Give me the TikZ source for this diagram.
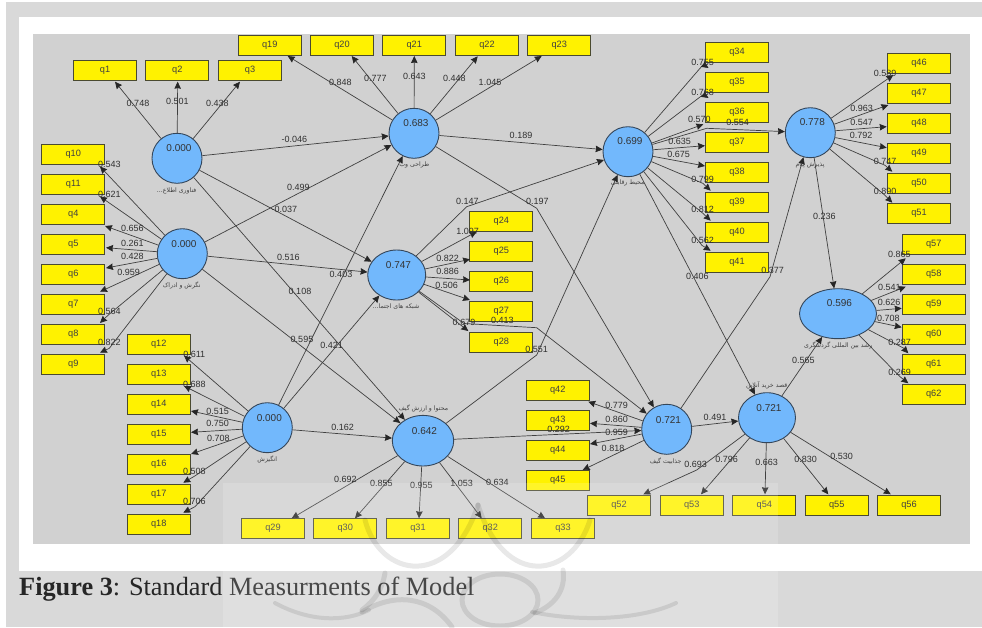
\documentclass[tikz,border=0pt]{standalone}
\usepackage{fontspec}
\setmainfont{Liberation Sans}
\newfontfamily\arabfont[Script=Arabic]{DejaVu Sans}
\newfontfamily\capfont{Liberation Serif}
\TeXXeTstate=1
\usetikzlibrary{arrows.meta,shapes.geometric}
\definecolor{pagegray}{HTML}{D9D9D9}
\definecolor{diagbg}{HTML}{D1D1D1}
\definecolor{boxline}{HTML}{4A4A30}
\definecolor{cfill}{HTML}{72B8FC}
\definecolor{cline}{HTML}{34465A}
\definecolor{linkcol}{HTML}{404040}
\definecolor{labcol}{HTML}{303030}
\tikzset{
  qbox/.style={draw=boxline,line width=.9pt,fill=yellow,minimum width=63pt,minimum height=20pt,inner sep=0pt,font=\fontsize{9.2}{10}\selectfont,text=black!75},
  arr/.style={draw=linkcol,line width=.7pt,-{Stealth[length=7pt,width=6.5pt,inset=.6pt,color=black!85]}},
  lab/.style={inner sep=0pt,font=\fontsize{9}{10}\selectfont,text=labcol},
  val/.style={inner sep=0pt,font=\fontsize{10}{11}\selectfont,text=black!80},
  arl/.style={inner sep=0pt,font=\arabfont\fontsize{6.2}{7}\selectfont,text=black!75},
  wm/.style={draw=black,draw opacity=.09,line cap=round}
}
\newcommand\lnk[4]{\draw[arr] (#1) -- ([shift={(#3,#4)}]#2.center);}
\newcommand\lnkb[6]{\draw[arr] (#1) -- ([shift={(#5,#6)}]#2.center) -- ([shift={(#3,#4)}]#2.center);}
\begin{document}
\begin{tikzpicture}[x=1pt,y=-1pt]
\useasboundingbox (0,0) rectangle (982,627);
\fill[white] (0,0) rectangle (982,627);
\fill[pagegray] (6,2) rectangle (982,17);
\fill[pagegray] (6,2) rectangle (19,627);
\fill[pagegray] (6,571) rectangle (982,627);
\fill[diagbg] (33,34) rectangle (970,544);
% indicators
\foreach \n/\x/\y in {1/105/70.5,2/177.3/70.5,3/250/70.5,
 19/269.7/45.3,20/342/45.3,21/414.3/45.3,22/487/45.3,23/559.3/45.3,
 10/73.3/154.7,11/73.3/184.7,4/73.3/214.7,5/73.3/244.7,6/73.3/274.7,7/73.3/304.7,8/73.3/334.7,9/73.3/364.7,
 12/158.7/344,13/158.7/374,14/158.7/404.3,15/158.7/434.3,16/158.7/464.3,17/158.7/494.3,18/158.7/524.3,
 29/273/528.7,30/345.3/528.7,31/418/528.7,32/490.3/528.7,33/563/528.7,
 24/501.4/221.7,25/501.4/251.7,26/501.4/281.7,27/501.4/311.7,28/501.4/342,
 34/737/52.3,35/737/82.3,36/737/112.3,37/737/142.3,38/737/172.3,39/737/202.4,40/737/232.4,41/737/262.4,
 46/919/63.3,47/919/93.3,48/919/123.3,49/919/153.3,50/919/183.3,51/919/213.3,
 57/933.7/244.7,58/933.7/274.7,59/933.7/304.7,60/933.7/334.7,61/933.7/364.7,62/933.7/394.7,
 42/557.7/390.7,43/557.7/420.7,44/557.7/450.7,45/557.7/480.7,
 52/619/505.7,53/691.7/505.7,54/764.3/505.7,55/836.7/505.7,56/909/505.7}
 {\node[qbox] (q\n) at (\x,\y) {q\n};}
% latent variables
\foreach \n/\x/\y/\rx/\ry in {a/177/158.3/25/25,b/182.3/253.7/25/25,c/267.3/427.7/25/25,
 d/414/133.3/25/25,e/396.7/275/29/25,f/423/440.7/30.7/25.3,g/628/151.7/25/25,
 h/810.3/132.7/25/25,i/838/313.7/38.5/25,j/666.7/429.3/25/25,k/767/417.7/28.5/25}
 {\node[ellipse,draw=cline,line width=.9pt,fill=cfill,minimum width=2*\rx pt,minimum height=2*\ry pt,inner sep=0pt] (\n) at (\x,\y) {};}
\foreach \n/\x/\y/\t in {a/179/148.5/0.000,b/184/244/0.000,c/269.3/418/0.000,d/416/123.5/0.683,
 e/398.5/265.5/0.747,f/424.5/431/0.642,g/630/141.5/0.699,h/812.3/122.5/0.778,i/839.5/303.5/0.596,
 j/668.5/420/0.721,k/769/408/0.721}
 {\node[val] (v\n) at (\x,\y) {\t};}
% construct captions
\node[arl] (ca) at (176.7,190.7) {\beginR فناوری اطلاع...\endR};
\node[arl] (cb) at (181.7,285.7) {\beginR نگرش و ادراک\endR};
\node[arl] (cc) at (267.3,459.7) {\beginR انگیزش\endR};
\node[arl] (cd) at (414.3,165.3) {\beginR طراحی وب\endR};
\node[arl] (ce) at (396,306.7) {\beginR شبکه های اجتما...\endR};
\node[arl] (cf) at (423.3,408.7) {\beginR محتوا و ارزش گیف\endR};
\node[arl] (cg) at (627.7,183) {\beginR محیط رقابتی\endR};
\node[arl] (ch) at (810,165) {\beginR پذیرش پیام\endR};
\node[arl] (ci) at (838.3,345.7) {\beginR رشد بین المللی گردشگری\endR};
\node[arl] (cj) at (665.7,460.7) {\beginR جذابیت گیف\endR};
\node[arl] (ck) at (766.7,385.7) {\beginR قصد خرید آنلاین\endR};
% structural paths
\draw[arr] (a) -- (d);
\draw[arr] (a) -- (e);
\draw[arr] (a) -- (f);
\draw[arr] (b) -- (d);
\draw[arr] (b) -- (e);
\draw[arr] (b) -- (f);
\draw[arr] (c) -- (d);
\draw[arr] (c) -- (e);
\draw[arr] (c) -- (f);
\draw[arr] (d) -- (g);
\draw[arr] (d) -- (536.7,208.3) -- (j);
\draw[arr] (e) -- (466.7,206.7) -- (g);
\draw[arr] (e) -- (464,323.5) -- (536.7,327.7) -- (j);
\draw[arr] (f) -- (536.7,355) -- (g);
\draw[arr] (f) -- (j);
\draw[arr] (g) -- (706.7,128.3) -- (h);
\draw[arr] (g) -- (k);
\draw[arr] (j) -- (k);
\draw[arr] (j) -- (770,276.7) -- (h);
\draw[arr] (k) -- (i);
\draw[arr] (h) -- (i);
% outer paths
\lnk{a}{q1}{10}{11.2}\lnk{a}{q2}{.4}{11.2}\lnk{a}{q3}{-10}{11.2}
\lnk{d}{q19}{18}{10.7}\lnk{d}{q20}{9.7}{10.7}\lnk{d}{q21}{0}{10.7}\lnk{d}{q22}{-9.3}{11}\lnk{d}{q23}{-17.6}{10.7}
\lnk{b}{q10}{26.7}{11.8}\lnk{b}{q11}{26.7}{11.8}\lnk{b}{q4}{31.7}{11.3}\lnk{b}{q5}{32.7}{3}\lnk{b}{q6}{32.7}{-6.7}\lnk{b}{q7}{26.7}{-13}
\lnkb{b}{q8}{26.7}{-11.7}{35}{-19.7}\lnkb{b}{q9}{26.7}{-12}{36}{-16.4}
\lnk{c}{q12}{25.3}{11.5}\lnk{c}{q13}{25.3}{12}\lnk{c}{q14}{32.3}{6.7}\lnk{c}{q15}{32.3}{-2}\lnk{c}{q16}{32.3}{-10.3}
\lnkb{c}{q17}{24.6}{-11.6}{35.6}{-18}\lnkb{c}{q18}{24.6}{-11.6}{36.3}{-17.6}
\lnk{f}{q29}{18.7}{-10.4}\lnk{f}{q30}{9.7}{-10.4}\lnk{f}{q31}{1}{-10.4}\lnk{f}{q32}{-8.6}{-10.4}\lnk{f}{q33}{-18}{-10.4}
\lnk{e}{q24}{-24.7}{10}\lnk{e}{q25}{-31.4}{7.6}\lnk{e}{q26}{-31.4}{-1.7}\lnk{e}{q27}{-31.4}{-11.7}\lnk{e}{q28}{-33.1}{-11}
\lnkb{g}{q34}{-28.5}{15.7}{-33.7}{12.2}\lnkb{g}{q35}{-28.5}{15.7}{-33.7}{12.2}\lnk{g}{q36}{-33.7}{12}\lnk{g}{q37}{-32}{3.4}\lnk{g}{q38}{-32}{-6.3}
\lnkb{g}{q39}{-26.3}{-11.7}{-34}{-19}\lnkb{g}{q40}{-26.3}{-11.7}{-34}{-19}\lnkb{g}{q41}{-26.3}{-11.7}{-35}{-17}
\lnk{h}{q46}{-25.7}{11.7}\lnk{h}{q47}{-30.7}{11.7}\lnk{h}{q48}{-32.3}{3.4}\lnk{h}{q49}{-32.3}{-5.6}
\lnkb{h}{q50}{-26.7}{-11.6}{-34}{-18}\lnkb{h}{q51}{-26.7}{-10.6}{-34}{-18}
\lnk{i}{q57}{-28}{13.6}\lnk{i}{q58}{-28}{12}\lnk{i}{q59}{-32}{3.6}\lnk{i}{q60}{-32}{-7.4}
\lnkb{i}{q61}{-25.4}{-11.4}{-30.4}{-16.7}\lnkb{i}{q62}{-25.4}{-11.4}{-33.7}{-18}
\lnk{j}{q42}{30.6}{11}\lnk{j}{q43}{32.3}{2.6}\lnk{j}{q44}{32.3}{-6.7}\lnk{j}{q45}{25}{-10.7}
\lnkb{k}{q52}{24.3}{-11.4}{77.7}{-35.7}\lnk{k}{q53}{9.3}{-11.4}\lnk{k}{q54}{.7}{-11.4}\lnk{k}{q55}{-8.4}{-11.4}\lnk{k}{q56}{-18.3}{-11.4}
% path labels
\foreach \x/\y/\t [count=\i] in {138/103.7/0.748,177.3/101.3/0.501,217.3/103.7/0.438,
 340.3/82.3/0.848,375.3/78.7/0.777,414.3/76.3/0.643,454.3/78.7/0.448,490/82.3/1.045,
 294.3/139.7/-0.046,298.3/187.7/0.499,284.3/209.3/-0.037,467.3/201.7/0.147,467.7/231.7/1.097,
 447.7/258.3/0.822,447.7/271.7/0.886,446.7/285.7/0.506,288.3/257.3/0.516,341/274.3/0.403,300/291.7/0.108,
 109.3/164.3/0.543,109.3/194.7/0.621,132.3/228.7/0.656,132.3/243.7/0.261,132.3/256.3/0.428,128.7/272.7/0.959,
 109.3/311.7/0.564,109.3/342.3/0.822,
 194.3/354.3/0.611,194.3/384.3/0.688,217.7/411/0.515,217.7/423.7/0.750,218.3/438.3/0.708,194.3/471.7/0.508,194.3/501.7/0.706,
 302/339.3/0.595,331.7/345.3/0.421,342.7/427.3/0.162,345.3/479.7/0.692,381.3/483/0.855,421.3/485.7/0.955,461.7/483/1.053,497.4/482.2/0.634,
 464/322.7/0.679,502.3/320/0.413,536.7/349/0.551,
 521/135.3/0.189,537.3/201.3/0.197,702.7/62.7/0.755,702.7/92.7/0.768,699.3/119/0.570,737.7/122.3/0.554,679.7/141.7/0.635,678.7/154.3/0.675,
 702.7/179.7/0.799,702.7/209.7/0.812,702.7/240/0.562,697.3/276.7/0.406,772.7/270/0.377,
 885/73.3/0.589,861.7/108/0.963,861.7/122.3/0.547,861/135.3/0.792,885/161/0.747,885/191/0.890,824.3/216/0.236,
 899.3/254.7/0.865,889.3/287.7/0.541,889/302.7/0.626,888.3/318.3/0.708,899.7/342.3/0.287,899.7/372.3/0.269,803.3/360.3/0.565,
 616.7/405/0.779,616.7/419.3/0.860,558.7/429.3/0.292,616.7/432.3/0.959,613/448.7/0.818,715/417.7/0.491,
 695.7/464.3/0.693,726.7/459.7/0.796,766.7/462.3/0.663,805.7/459.7/0.830,841.7/456.7/0.530}
 {\node[lab] (lab\i) at (\x,\y) {\t};}
% caption
\node[anchor=base west,inner sep=0pt,font=\capfont\fontsize{26.3}{30}\selectfont,text=black!85] (caption) at (19,595) {\textbf{Figure 3}: Standard Measurments of Model};
% watermark
\fill[white,opacity=.16] (223,483) rectangle (778,627);
\begin{scope}
\clip (223,490) rectangle (778,627);
\draw[wm,line width=5pt] (365,520) .. controls (380,578) and (450,590) .. (478,505);
\draw[wm,line width=5pt] (478,505) .. controls (505,590) and (572,578) .. (590,520);
\draw[wm,line width=5pt] (500,600) ellipse (38 and 26);
\draw[wm,line width=5pt] (385,573) .. controls (382,590) and (375,600) .. (362,610);
\draw[wm,line width=5pt] (362,612) .. controls (395,592) and (430,596) .. (452,627);
\draw[wm,line width=4pt] (275,603) .. controls (310,622) and (345,622) .. (369,610);
\draw[wm,line width=5pt] (563,570) .. controls (566,590) and (555,605) .. (535,613);
\draw[wm,line width=4pt] (532,612) .. controls (580,622) and (640,620) .. (676,603);
\end{scope}
\end{tikzpicture}
\end{document}
